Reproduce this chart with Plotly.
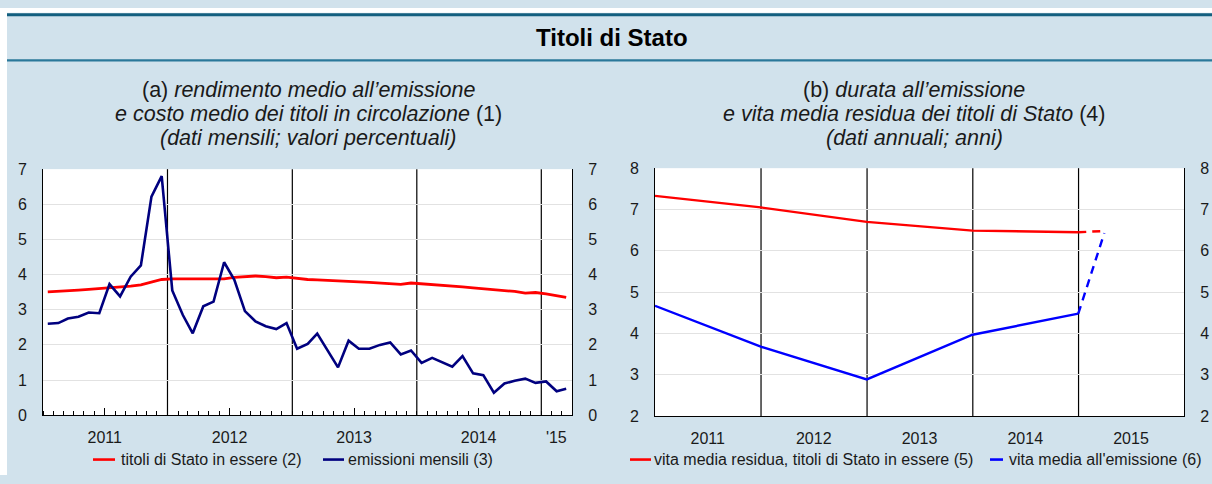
import pandas as pd
import plotly.graph_objects as go

W, H = 1212, 484
FONT = "Liberation Sans, Arial, Helvetica, sans-serif"
TXT = "#1a1a1a"

# ---- panel (a): monthly data, Jan 2011 - Mar 2015 ----
months = pd.date_range("2011-01-01", "2015-03-01", freq="MS")
month_mid = months + pd.Timedelta(days=14)

costo_medio_circolazione = [
    3.51, 3.52, 3.54, 3.56, 3.58, 3.60, 3.62, 3.63, 3.67, 3.71, 3.78, 3.86,
    3.88, 3.88, 3.88, 3.88, 3.89, 3.88, 3.92, 3.95, 3.96, 3.94, 3.91, 3.93,
    3.89, 3.86, 3.85, 3.83, 3.81, 3.80, 3.79, 3.78, 3.76, 3.74, 3.72, 3.76,
    3.74, 3.72, 3.70, 3.68, 3.65, 3.62, 3.60, 3.57, 3.55, 3.52, 3.47, 3.49,
    3.45, 3.40, 3.35,
]
rendimento_emissione = [
    2.60, 2.62, 2.75, 2.80, 2.92, 2.90, 3.73, 3.38, 3.94, 4.26, 6.22, 6.80,
    3.55, 2.85, 2.33, 3.10, 3.23, 4.35, 3.85, 2.96, 2.67, 2.53, 2.45, 2.62,
    1.89, 2.03, 2.32, 1.84, 1.36, 2.12, 1.89, 1.89, 2.00, 2.07, 1.73, 1.84,
    1.49, 1.63, 1.51, 1.38, 1.68, 1.19, 1.14, 0.64, 0.90, 0.98, 1.04, 0.92,
    0.96, 0.68, 0.75,
]
a_tick_dates = ["2011-07-01", "2012-07-01", "2013-07-01", "2014-07-01", "2015-02-14"]
a_tick_text = ["2011", "2012", "2013", "2014", "'15"]
a_midyear = ["2011-07-01", "2012-07-01", "2013-07-01", "2014-07-01"]
a_year_lines = ["2012-01-01", "2013-01-01", "2014-01-01", "2015-01-01"]

# ---- panel (b): annual data ----
year_end = ["2010-12-31", "2011-12-31", "2012-12-31", "2013-12-31", "2014-12-31"]
vita_residua = [7.33, 7.05, 6.70, 6.49, 6.45]
vita_emissione = [4.67, 3.68, 2.89, 3.97, 4.48]
stima_data = "2015-03-31"
vita_residua_stima = 6.48
vita_emissione_stima = 6.43
b_tick_dates = ["2011-07-01", "2012-07-01", "2013-07-01", "2014-07-01", "2015-07-01"]
b_tick_text = ["2011", "2012", "2013", "2014", "2015"]
b_year_lines = ["2012-01-01", "2013-01-01", "2014-01-01", "2015-01-01"]

RED = "#ff0000"
NAVY = "#00007f"
BLUE = "#0000ff"


def fx(px):
    return px / W


def fy(py):
    return 1 - py / H


A_X = [fx(43), fx(572)]
A_Y = [fy(422), fy(167)]
B_X = [fx(655), fx(1184)]
B_Y = [fy(423), fy(166)]

fig = go.Figure()

fig.add_trace(go.Scatter(x=month_mid, y=costo_medio_circolazione, mode="lines",
                         line=dict(color=RED, width=2.8), xaxis="x", yaxis="y",
                         name="titoli di Stato in essere (2)"))
fig.add_trace(go.Scatter(x=month_mid, y=rendimento_emissione, mode="lines",
                         line=dict(color=NAVY, width=2.6), xaxis="x", yaxis="y",
                         name="emissioni mensili (3)"))

fig.add_trace(go.Scatter(x=year_end, y=vita_residua, mode="lines",
                         line=dict(color=RED, width=2.4), xaxis="x2", yaxis="y2",
                         name="vita media residua, titoli di Stato in essere (5)"))
fig.add_trace(go.Scatter(x=[year_end[-1], stima_data], y=[vita_residua[-1], vita_residua_stima],
                         mode="lines", line=dict(color=RED, width=2.4, dash="8px,6px"),
                         xaxis="x2", yaxis="y2"))
fig.add_trace(go.Scatter(x=year_end, y=vita_emissione, mode="lines",
                         line=dict(color=BLUE, width=2.4), xaxis="x2", yaxis="y2",
                         name="vita media all'emissione (6)"))
fig.add_trace(go.Scatter(x=[year_end[-1], stima_data], y=[vita_emissione[-1], vita_emissione_stima],
                         mode="lines", line=dict(color=BLUE, width=2.4, dash="8px,6px"),
                         xaxis="x2", yaxis="y2"))

# empty traces so the mirrored right-hand axes and the mid-year ticks are drawn
fig.add_trace(go.Scatter(x=[None], y=[None], xaxis="x", yaxis="y3", hoverinfo="skip"))
fig.add_trace(go.Scatter(x=[None], y=[None], xaxis="x2", yaxis="y4", hoverinfo="skip"))
fig.add_trace(go.Scatter(x=[None], y=[None], xaxis="x3", yaxis="y", hoverinfo="skip"))

tickfont = dict(family=FONT, size=16, color=TXT)
yax_common = dict(dtick=1, tickfont=tickfont, showline=True, linecolor="black",
                  linewidth=1, ticks="", zeroline=False, ticklabelstandoff=12)

shapes = [
    # white margin strips, header rules
    dict(type="rect", xref="paper", yref="paper", x0=0, x1=1, y0=fy(5), y1=1,
         fillcolor="white", line=dict(width=0), layer="below"),
    dict(type="rect", xref="paper", yref="paper", x0=0, x1=fx(7), y0=0, y1=1,
         fillcolor="white", line=dict(width=0), layer="below"),
    dict(type="rect", xref="paper", yref="paper", x0=fx(7), x1=1, y0=fy(8.5), y1=fy(5.5),
         fillcolor="#135f7f", line=dict(width=0), layer="below"),
    dict(type="rect", xref="paper", yref="paper", x0=fx(7), x1=1, y0=fy(55.5), y1=fy(53),
         fillcolor="#2a789a", line=dict(width=0), layer="below"),
]
for d in a_year_lines:
    shapes.append(dict(type="line", xref="x", yref="paper", x0=d, x1=d,
                       y0=A_Y[0], y1=A_Y[1],
                       line=dict(color="black", width=1.2), layer="below"))
for d in b_year_lines:
    shapes.append(dict(type="line", xref="x2", yref="paper", x0=d, x1=d,
                       y0=B_Y[0], y1=B_Y[1],
                       line=dict(color="black", width=1.2), layer="below"))

# legend keys
legend_keys = [
    (93, 115, RED, 119, "titoli di Stato in essere (2)"),
    (323, 344, NAVY, 346, "emissioni mensili (3)"),
    (630, 651, RED, 652, "vita media residua, titoli di Stato in essere (5)"),
    (990, 1003, BLUE, 1007, "vita media all'emissione (6)"),
]
LEG_Y = 468
annotations = []
for x0, x1, col, tx, label in legend_keys:
    shapes.append(dict(type="line", xref="paper", yref="paper", x0=fx(x0), x1=fx(x1),
                       y0=fy(LEG_Y), y1=fy(LEG_Y), line=dict(color=col, width=2.6)))
    annotations.append(dict(xref="paper", yref="paper", x=fx(tx), y=fy(LEG_Y),
                            xanchor="left", yanchor="middle", showarrow=False,
                            text=label, font=dict(family=FONT, size=16, color=TXT)))

annotations.append(dict(xref="paper", yref="paper", x=fx(612), y=fy(31), xanchor="center",
                        yanchor="middle", showarrow=False, text="<b>Titoli di Stato</b>",
                        font=dict(family=FONT, size=24, color="black")))

sub_font = dict(family=FONT, size=21.5, color=TXT)
subtitles = [
    (308, ["(a) <i>rendimento medio all’emissione</i>",
           "<i>e costo medio dei titoli in circolazione</i> (1)",
           "<i>(dati mensili; valori percentuali)</i>"]),
    (914, ["(b) <i>durata all’emissione</i>",
           "<i>e vita media residua dei titoli di Stato</i> (4)",
           "<i>(dati annuali; anni)</i>"]),
]
for cx, lines in subtitles:
    for i, t in enumerate(lines):
        annotations.append(dict(xref="paper", yref="paper", x=fx(cx), y=fy(85 + 25 * i),
                                xanchor="center", yanchor="middle", showarrow=False,
                                text=t, font=sub_font))

fig.update_layout(
    width=W, height=H, margin=dict(l=0, r=0, t=0, b=0),
    paper_bgcolor="#d1e2ec", plot_bgcolor="white", showlegend=False,
    font=dict(family=FONT, color=TXT),
    xaxis=dict(type="date", domain=A_X, anchor="y", range=["2011-01-01", "2015-04-01"],
               tickmode="array", tickvals=a_tick_dates, ticktext=a_tick_text, ticks="",
               tickfont=tickfont, showline=True, linecolor="black", linewidth=1,
               showgrid=False, zeroline=False, ticklabelstandoff=8,
               minor=dict(tick0="2011-01-01", dtick="M1", ticks="inside", ticklen=4,
                          tickcolor="black", tickwidth=1, showgrid=False)),
    xaxis3=dict(type="date", overlaying="x", anchor="y", side="bottom",
                range=["2011-01-01", "2015-04-01"], tickmode="array", tickvals=a_midyear,
                ticks="inside", ticklen=7, tickcolor="black", tickwidth=1,
                showticklabels=False, showgrid=False, showline=False, zeroline=False),
    yaxis=dict(domain=A_Y, anchor="x", range=[0, 7], gridcolor="#e2e2e2", gridwidth=1,
               **yax_common),
    yaxis3=dict(overlaying="y", anchor="x", side="right", range=[0, 7], showgrid=False,
                **yax_common),
    xaxis2=dict(type="date", domain=B_X, anchor="y2", range=["2010-12-31", "2015-12-31"],
                tickmode="array", tickvals=b_tick_dates, ticktext=b_tick_text, ticks="",
                tickfont=tickfont, showline=True, linecolor="black", linewidth=1,
                showgrid=False, zeroline=False, ticklabelstandoff=8),
    yaxis2=dict(domain=B_Y, anchor="x2", range=[2, 8], gridcolor="#e2e2e2", gridwidth=1,
                **yax_common),
    yaxis4=dict(overlaying="y2", anchor="x2", side="right", range=[2, 8], showgrid=False,
                **yax_common),
    shapes=shapes,
    annotations=annotations,
)

fig.write_html("out.html")
